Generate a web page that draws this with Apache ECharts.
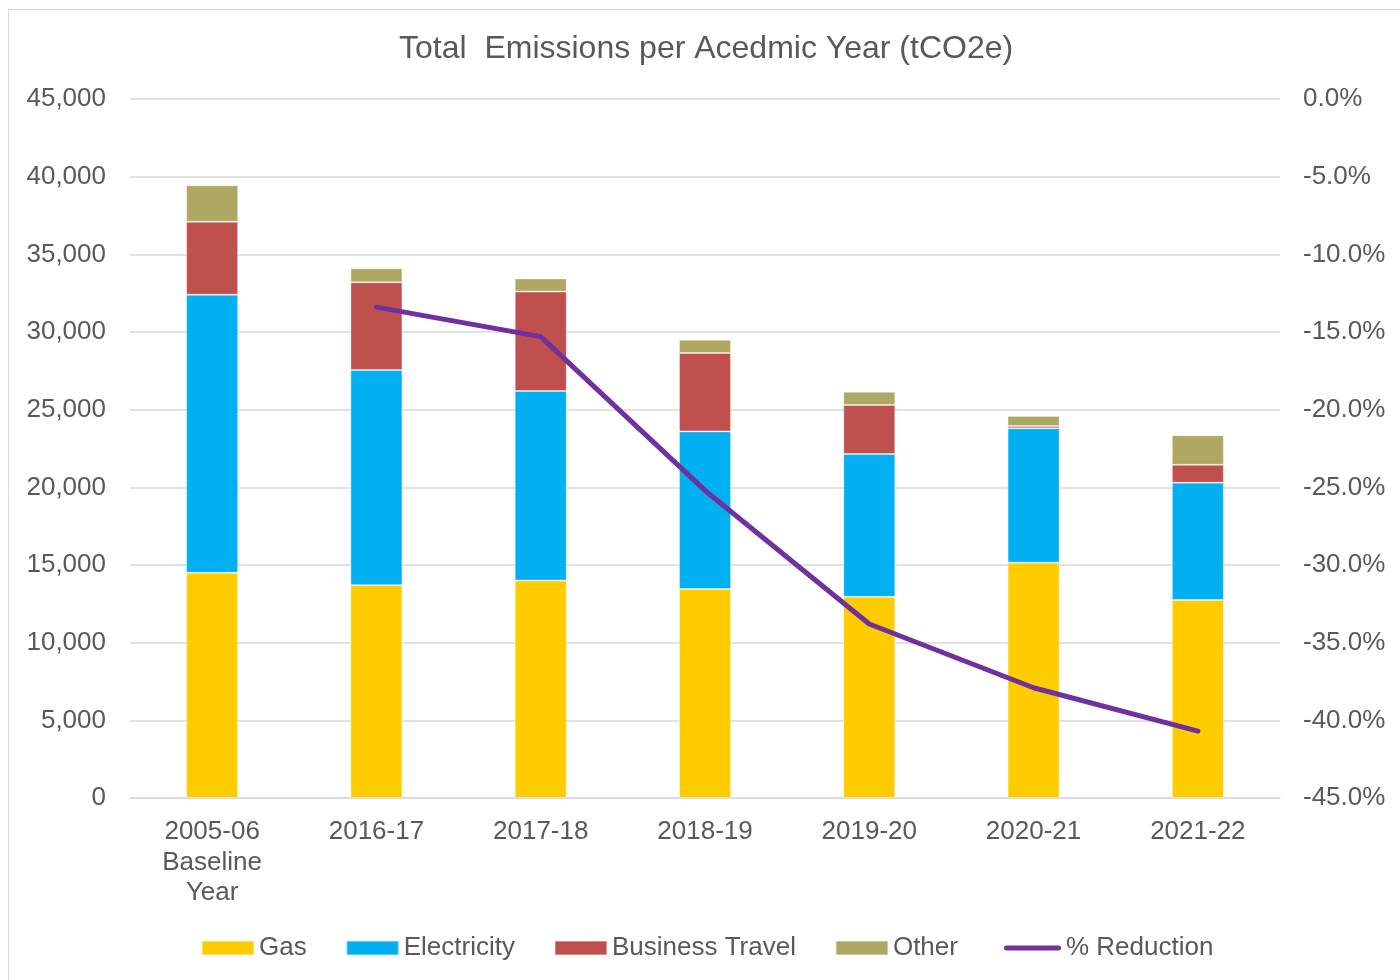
<!DOCTYPE html>
<html>
<head>
<meta charset="utf-8">
<script src="https://cdn.jsdelivr.net/npm/echarts@6/dist/echarts.min.js"></script>
<style>
html,body{margin:0;padding:0;background:#fff;}
#chart{width:1400px;height:980px;}
</style>
</head>
<body>
<div id="chart"></div>
<script>
const categories = ['2005-06\nBaseline\nYear', '2016-17', '2017-18', '2018-19', '2019-20', '2020-21', '2021-22'];
const gas = [14500, 13700, 14000, 13450, 12950, 15150, 12750];
const electricity = [17900, 13850, 12200, 10150, 9200, 8650, 7550];
const businessTravel = [4700, 5650, 6400, 5050, 3150, 150, 1150];
const other = [2350, 900, 850, 850, 850, 650, 1900];
const reduction = [null, -13.4, -15.3, -25.2, -33.8, -37.9, -40.7];
const leftTicks = {min: 0, max: 45000, interval: 5000};
const rightTicks = {min: -45, max: 0, interval: 5};

const textColor = '#595959';
const font = 'Liberation Sans, Arial, sans-serif';
const chart = echarts.init(document.getElementById('chart'));
const barStyle = (c) => ({color: c, borderColor: 'rgba(255,255,255,0.35)', borderWidth: 1});
const lineIcon = 'path://M2.5,0 H54.5 A2.5,2.5 0 0 1 54.5,5 H2.5 A2.5,2.5 0 0 1 2.5,0 Z';
const legendText = {fontSize: 26, color: textColor, fontFamily: font};
chart.setOption({
  animation: false,
  textStyle: {fontFamily: font},
  graphic: [{
    type: 'rect', shape: {x: 8.5, y: 9.5, width: 1500, height: 1500},
    style: {fill: 'none', stroke: '#d9d9d9', lineWidth: 1}, silent: true
  }],
  title: {
    text: 'Total  Emissions per Acedmic Year (tCO2e)',
    left: 399, top: 33, padding: 0,
    textStyle: {fontSize: 32, fontWeight: 'normal', color: textColor, fontFamily: font}
  },
  grid: {left: 130, right: 120, top: 99, bottom: 182, containLabel: false},
  legend: [{
    left: 196, top: 930, itemWidth: 52, itemHeight: 14, itemGap: 39, itemTextGap: 5,
    textStyle: legendText,
    data: [
      {name: 'Gas', icon: 'rect'},
      {name: 'Electricity', icon: 'rect'},
      {name: 'Business Travel', icon: 'rect'},
      {name: 'Other', icon: 'rect'}
    ]
  }, {
    left: 999, top: 930, itemWidth: 57, itemHeight: 14, itemTextGap: 16,
    textStyle: legendText,
    data: [{name: '% Reduction', icon: lineIcon}]
  }],
  xAxis: {
    type: 'category', data: categories,
    axisLine: {lineStyle: {color: '#d9d9d9', width: 1.5}},
    axisTick: {show: false},
    axisLabel: {fontSize: 26, color: textColor, lineHeight: 30.5, margin: 19, interval: 0, fontFamily: font}
  },
  yAxis: [{
    type: 'value', min: leftTicks.min, max: leftTicks.max, interval: leftTicks.interval,
    axisLine: {show: false}, axisTick: {show: false},
    splitLine: {lineStyle: {color: '#d9d9d9', width: 1.5}},
    axisLabel: {fontSize: 26, color: textColor, margin: 24, fontFamily: font,
      formatter: v => v.toLocaleString('en-US')}
  }, {
    type: 'value', min: rightTicks.min, max: rightTicks.max, interval: rightTicks.interval,
    axisLine: {show: false}, axisTick: {show: false}, splitLine: {show: false},
    axisLabel: {fontSize: 26, color: textColor, margin: 23, fontFamily: font,
      formatter: v => v.toFixed(1) + '%'}
  }],
  series: [
    {name: 'Gas', type: 'bar', stack: 'e', data: gas, barWidth: 52, itemStyle: barStyle('#FFCC00')},
    {name: 'Electricity', type: 'bar', stack: 'e', data: electricity, barWidth: 52, itemStyle: barStyle('#00B0F0')},
    {name: 'Business Travel', type: 'bar', stack: 'e', data: businessTravel, barWidth: 52, itemStyle: barStyle('#C0504D')},
    {name: 'Other', type: 'bar', stack: 'e', data: other, barWidth: 52, itemStyle: barStyle('#AFA862')},
    {name: '% Reduction', type: 'line', yAxisIndex: 1, data: reduction, symbol: 'none', showSymbol: false,
      itemStyle: {color: '#7030A0'},
      lineStyle: {color: '#7030A0', width: 5, cap: 'round', join: 'round'}}
  ]
});
</script>
</body>
</html>
